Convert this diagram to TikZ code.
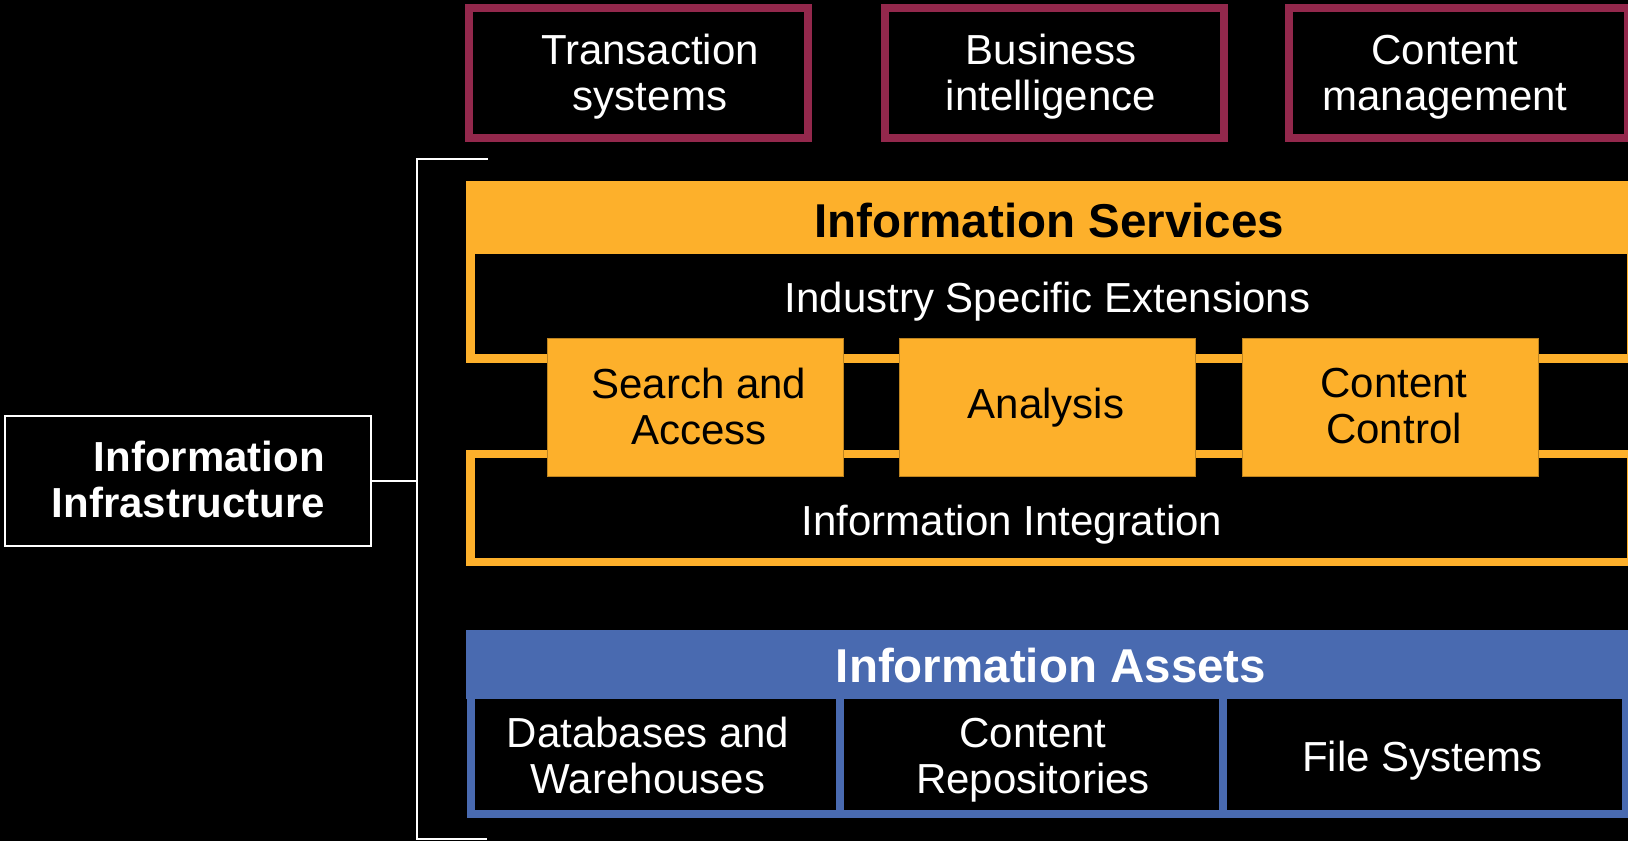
\documentclass[tikz,border=0pt]{standalone}
\usepackage{fontspec}
\setmainfont{Liberation Sans}
\definecolor{maroonC}{RGB}{147,40,76}
\definecolor{orangeC}{RGB}{253,176,43}
\definecolor{blueC}{RGB}{73,106,176}
\begin{document}
\begin{tikzpicture}[x=1pt,y=-1pt,
  box/.style={rectangle, inner sep=0pt, outer sep=0pt},
  topbox/.style={box, draw=maroonC, line width=8pt, fill=black},
  obox/.style={box, draw=orangeC, line width=8.5pt, fill=black},
  ofill/.style={box, fill=orangeC},
  svcbox/.style={box, fill=orangeC, draw=orangeC!75!black, line width=0.8pt},
  abox/.style={box, draw=blueC, line width=8pt, fill=black},
  bfill/.style={box, fill=blueC},
  wtext/.style={inner sep=0pt, text=white, align=center, font=\fontsize{42}{46}\selectfont},
  ktext/.style={inner sep=0pt, text=black, align=center, font=\fontsize{42}{46}\selectfont},
  head/.style={inner sep=0pt, font=\bfseries\fontsize{47.5}{52}\selectfont},
  wline/.style={draw=white, line width=2pt},
]
\useasboundingbox (0,0) rectangle (1628,841);
\clip (0,0) rectangle (1628,841);
\fill[black] (0,0) rectangle (1628,841);

% top boxes
\node[topbox, minimum width=339pt, minimum height=130pt] (ts) at (638.5,73) {};
\node[wtext, anchor=base] (tst) at (650,110) {Transaction\\systems};
\node[topbox, minimum width=339pt, minimum height=130pt] (bi) at (1054.5,73) {};
\node[wtext, anchor=base] (bit) at (1051,110) {Business\\intelligence};
\node[topbox, minimum width=339pt, minimum height=130pt] (cm) at (1458.5,73) {};
\node[wtext, anchor=base] (cmt) at (1445,110) {Content\\management};

% information services
\node[obox, minimum width=1161pt, minimum height=108.5pt] (ise) at (1050.75,304.25) {};
\node[ofill, minimum width=1180pt, minimum height=73pt] (ishead) at (1056,217.5) {};
\node[head, text=black, anchor=base] (isheadt) at (1049,237) {Information Services};
\node[wtext, anchor=base] (iset) at (1047.5,312) {Industry Specific Extensions};
\node[obox, minimum width=1161pt, minimum height=108pt] (ii) at (1050.75,508) {};
\node[wtext, anchor=base] (iit) at (1012,535) {Information Integration};

\node[svcbox, minimum width=296pt, minimum height=138pt] (sa) at (695,407) {};
\node[ktext, anchor=base] (sat) at (699,444) {Search and\\Access};
\node[svcbox, minimum width=296pt, minimum height=138pt] (an) at (1047,407) {};
\node[ktext, anchor=base] (ant) at (1046,418) {Analysis};
\node[svcbox, minimum width=296pt, minimum height=138pt] (cc) at (1390,407) {};
\node[ktext, anchor=base] (cct) at (1394,443) {Content\\Control};

% information assets
\node[abox, minimum width=369pt, minimum height=119pt] (db) at (655,754.5) {};
\node[wtext, anchor=base] (dbt) at (648,793) {Databases and\\Warehouses};
\node[abox, minimum width=383pt, minimum height=119pt] (cr) at (1031,754.5) {};
\node[wtext, anchor=base] (crt) at (1033,793) {Content\\Repositories};
\node[abox, minimum width=403.5pt, minimum height=119pt] (fs) at (1424.25,754.5) {};
\node[wtext, anchor=base] (fst) at (1422.5,771) {File Systems};
\node[bfill, minimum width=1174pt, minimum height=69pt] (iahead) at (1053,664.5) {};
\node[head, text=white, anchor=base] (iaheadt) at (1051,682) {Information Assets};

% infrastructure
\node[box, draw=white, line width=2.5pt, fill=black, minimum width=366pt, minimum height=130pt] (infra) at (188,481) {};
\node[inner sep=0pt, text=white, align=right, font=\bfseries\fontsize{42}{46}\selectfont, anchor=base east] (infrat) at (325,517) {Information\\Infrastructure};

\coordinate (brtop) at (417,159);
\coordinate (brtopend) at (488,159);
\coordinate (brbot) at (417,839);
\coordinate (brbotend) at (487,839);
\draw[wline] (brtopend) -- (brtop) -- (brbot) -- (brbotend);
\draw[wline] (infra.east) -- (infra.east -| brtop);
\end{tikzpicture}
\end{document}
